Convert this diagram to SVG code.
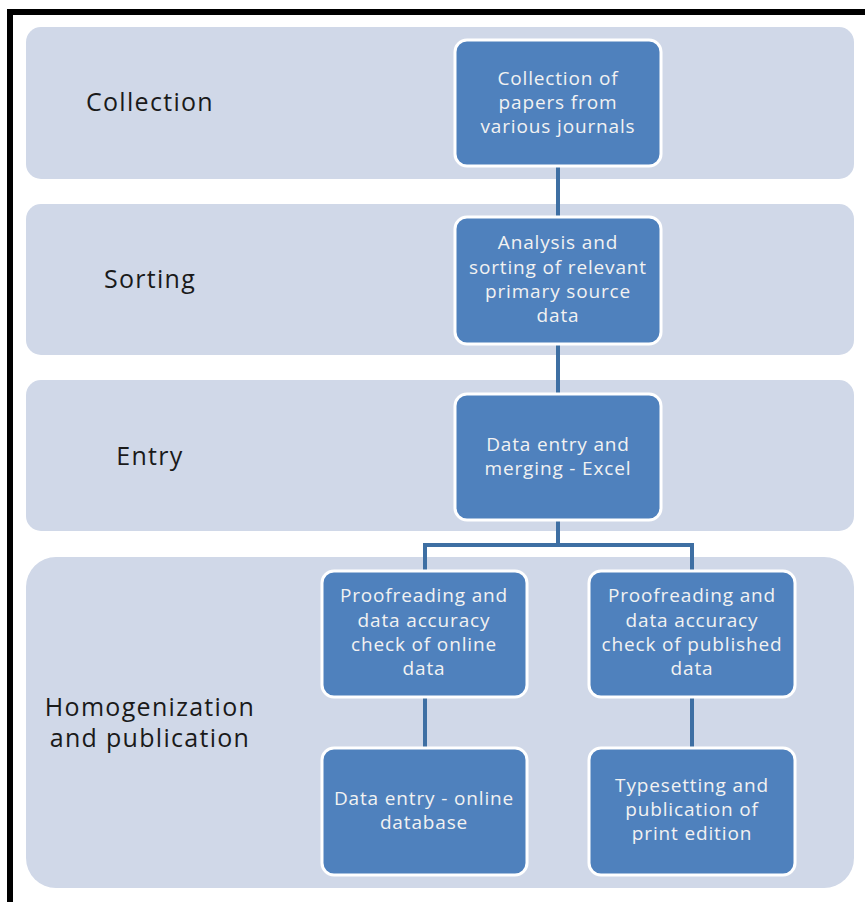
<svg xmlns="http://www.w3.org/2000/svg" width="865" height="902" viewBox="0 0 865 902">
<style>
.band{fill:#d0d8e8;}
.node rect{fill:#4f81bd;stroke:#ffffff;stroke-width:3;}
.node text{fill:#f2f2f2;font-family:"Open Sans","Noto Sans",sans-serif;font-size:19px;letter-spacing:0.85px;text-anchor:middle;}
.label{fill:#1a1a1a;font-family:"Open Sans","Noto Sans",sans-serif;font-size:25px;letter-spacing:1.3px;text-anchor:middle;}
.conn{fill:none;stroke:#3e6fa3;stroke-width:4;}
</style>
<rect x="0" y="0" width="865" height="902" fill="#ffffff"/>
<rect x="7" y="9" width="858" height="6" fill="#000000"/>
<rect x="7" y="9" width="6" height="893" fill="#000000"/>
<g id="bands">
<rect class="band" x="26" y="27" width="828" height="152" rx="15"/>
<rect class="band" x="26" y="204" width="828" height="151" rx="15"/>
<rect class="band" x="26" y="380" width="828" height="151" rx="15"/>
<rect class="band" x="26" y="557" width="828" height="331" rx="30"/>
</g>
<g id="labels">
<text class="label" x="150" y="111">Collection</text>
<text class="label" x="150" y="288">Sorting</text>
<text class="label" x="150" y="465">Entry</text>
<text class="label" x="150" y="716"><tspan x="150">Homogenization</tspan><tspan x="150" dy="31">and publication</tspan></text>
</g>
<g id="connectors">
<path class="conn" d="M558 166 V216"/>
<path class="conn" d="M558 344 V393"/>
<path class="conn" d="M558 520 V545 M425 570 V545 H692 V570"/>
<path class="conn" d="M425 697 V747"/>
<path class="conn" d="M692 697 V748"/>
</g>
<g id="n1" class="node">
<rect x="455" y="40" width="206" height="126" rx="12"/>
<text x="558" y="85">Collection of</text>
<text x="558" y="109">papers from</text>
<text x="558" y="133">various journals</text>
</g>
<g id="n2" class="node">
<rect x="455" y="217" width="206" height="127" rx="12"/>
<text x="558" y="249">Analysis and</text>
<text x="558" y="274">sorting of relevant</text>
<text x="558" y="298">primary source</text>
<text x="558" y="322">data</text>
</g>
<g id="n3" class="node">
<rect x="455" y="394" width="206" height="126" rx="12"/>
<text x="558" y="451">Data entry and</text>
<text x="558" y="475">merging - Excel</text>
</g>
<g id="n4" class="node">
<rect x="322" y="571" width="205" height="126" rx="12"/>
<text x="424" y="602">Proofreading and</text>
<text x="424" y="627">data accuracy</text>
<text x="424" y="651">check of online</text>
<text x="424" y="675">data</text>
</g>
<g id="n5" class="node">
<rect x="589" y="571" width="206" height="126" rx="12"/>
<text x="692" y="602">Proofreading and</text>
<text x="692" y="627">data accuracy</text>
<text x="692" y="651">check of published</text>
<text x="692" y="675">data</text>
</g>
<g id="n6" class="node">
<rect x="322" y="748" width="205" height="127" rx="12"/>
<text x="424" y="805">Data entry - online</text>
<text x="424" y="829">database</text>
</g>
<g id="n7" class="node">
<rect x="589" y="748" width="206" height="127" rx="12"/>
<text x="692" y="792">Typesetting and</text>
<text x="692" y="816">publication of</text>
<text x="692" y="840">print edition</text>
</g>
</svg>
